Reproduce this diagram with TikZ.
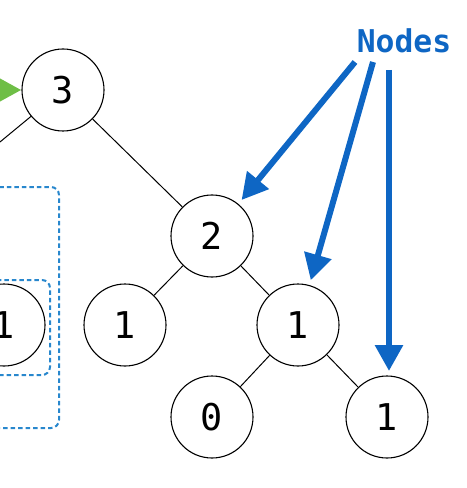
\documentclass[tikz,border=0pt]{standalone}
\usepackage{fontspec}
\setmonofont{DejaVu Sans Mono}
\usetikzlibrary{arrows.meta}
\definecolor{callout}{RGB}{14,102,196}
\definecolor{pointer}{RGB}{110,190,70}
\definecolor{frame}{RGB}{40,135,205}
\tikzset{
  treenode/.style={circle,draw=black,line width=1.1bp,minimum size=82bp,inner sep=0pt,
    font=\fontsize{37}{37}\selectfont\ttfamily},
  treeedge/.style={draw=black,line width=1bp},
  callarrow/.style={draw=callout,line width=6bp,-{Triangle[length=26bp,width=27bp]},shorten >=5bp},
  subframe/.style={draw=frame,line width=2bp,dash pattern=on 4.5bp off 3bp,rounded corners=8bp},
}
\begin{document}
\begin{tikzpicture}[x=1bp,y=-1bp]
\useasboundingbox (0,0) rectangle (467,488);
\clip (0,0) rectangle (467,488);

% tree nodes
\node[treenode] (r)   at (63,90)   {3};
\node[treenode] (a)   at (212,236) {2};
\node[treenode] (ll)  at (4,325)   {1};
\node[treenode] (al)  at (125,325) {1};
\node[treenode] (ar)  at (298,325) {1};
\node[treenode] (arl) at (212,417) {0};
\node[treenode] (arr) at (387,417) {1};
\coordinate (lsub) at (-114,236);

% subtree frames
\draw[subframe] (-60,187) rectangle (59,428);
\draw[subframe] (-60,280) rectangle (50,375);

% tree edges
\draw[treeedge] (r) -- (lsub);
\draw[treeedge] (r) -- (a);
\draw[treeedge] (a) -- (al);
\draw[treeedge] (a) -- (ar);
\draw[treeedge] (ar) -- (arl);
\draw[treeedge] (ar) -- (arr);

% entry pointer
\coordinate (entry) at (-40,90);
\draw[draw=pointer,line width=6bp,-{Triangle[length=22bp,width=22bp]}] (entry) -- (r);

% label with its arrows
\node[text=callout,font=\fontsize{31.5}{31.5}\selectfont\ttfamily\bfseries] (lbl) at (404,41) {Nodes};
\coordinate (s1) at (355,62);
\coordinate (s2) at (373,62);
\coordinate (s3) at (389,70);
\draw[callarrow] (s1) -- (a);
\draw[callarrow] (s2) -- (ar);
\draw[callarrow] (s3) -- (389,376);
\end{tikzpicture}
\end{document}
